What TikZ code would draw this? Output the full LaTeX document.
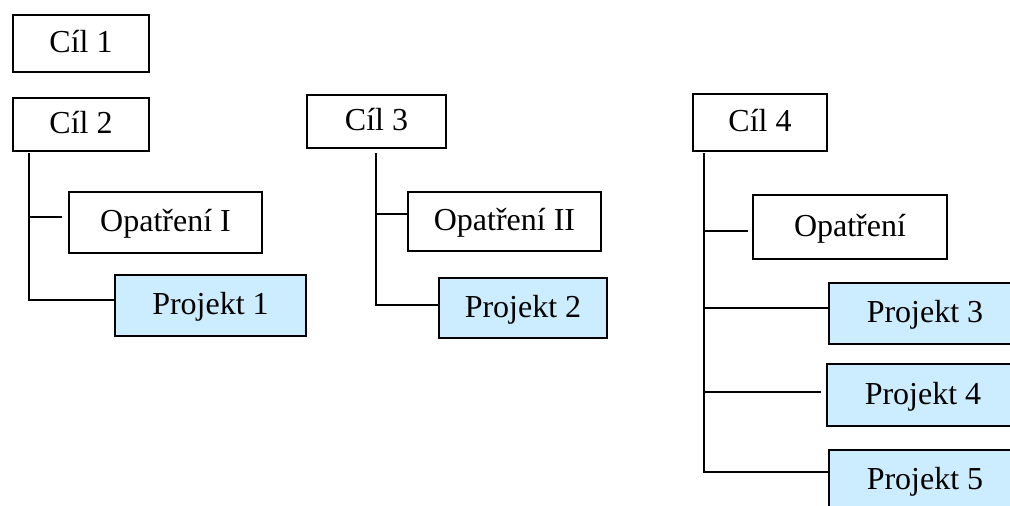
\documentclass[tikz,border=0pt]{standalone}
\usepackage{fontspec}
\setmainfont{Liberation Serif}
\definecolor{projblue}{HTML}{CCECFF}
\begin{document}
\begin{tikzpicture}[x=1pt,y=-1pt,
  box/.style={draw=black, line width=1.5pt, inner sep=0pt, align=center,
    font=\fontsize{32}{38}\selectfont, text=black, text height=22pt, text depth=4pt},
  proj/.style={box, fill=projblue},
  conn/.style={draw=black, line width=1.5pt}]
\useasboundingbox (0,0) rectangle (1010,506);
\clip (0,0) rectangle (1010,506);
\fill[white] (0,0) rectangle (1010,506);
% goals
\node[box, minimum width=136pt, minimum height=57pt] (c1) at (81,43.5) {Cíl 1};
\node[box, minimum width=136pt, minimum height=53pt] (c2) at (81,124.5) {Cíl 2};
\node[box, minimum width=139pt, minimum height=53pt] (c3) at (376.5,121.5) {Cíl 3};
\node[box, minimum width=134pt, minimum height=57pt] (c4) at (760,122.5) {Cíl 4};
% measures
\node[box, minimum width=193pt, minimum height=61pt] (o1) at (165.5,222.5) {Opatření I};
\node[box, minimum width=193pt, minimum height=59pt] (o2) at (504.5,221.5) {Opatření II};
\node[box, minimum width=194pt, minimum height=64pt] (o3) at (850,227) {Opatření};
% projects
\node[proj, minimum width=191pt, minimum height=61pt] (p1) at (210.5,305.5) {Projekt 1};
\node[proj, minimum width=168pt, minimum height=60pt] (p2) at (523,308) {Projekt 2};
\node[proj, minimum width=192pt, minimum height=61pt] (p3) at (925,313.5) {Projekt 3};
\node[proj, minimum width=192pt, minimum height=62pt] (p4) at (923,395) {Projekt 4};
\node[proj, minimum width=192pt, minimum height=61pt] (p5) at (925,480.5) {Projekt 5};
% trunk coordinates
\coordinate (t2) at (29,153);
\coordinate (t3) at (376,153);
\coordinate (t4) at (704,153);
% connectors for Cil 2
\draw[conn] (t2) |- ([yshift=5.5pt]p1.west);
\draw[conn] ([yshift=5.5pt]t2 |- o1.west) -- ([xshift=-6pt,yshift=5.5pt]o1.west);
% connectors for Cil 3
\draw[conn] (t3) |- ([yshift=3pt]p2.west);
\draw[conn] ([yshift=7.5pt]t3 |- o2.west) -- ([yshift=7.5pt]o2.west);
% connectors for Cil 4
\draw[conn] (t4) |- ([yshift=8.5pt]p5.west);
\draw[conn] ([yshift=-4pt]t4 |- o3.west) -- ([xshift=-4pt,yshift=-4pt]o3.west);
\draw[conn] ([yshift=5.5pt]t4 |- p3.west) -- ([yshift=5.5pt]p3.west);
\draw[conn] ([yshift=3pt]t4 |- p4.west) -- ([xshift=-5pt,yshift=3pt]p4.west);
\end{tikzpicture}
\end{document}
